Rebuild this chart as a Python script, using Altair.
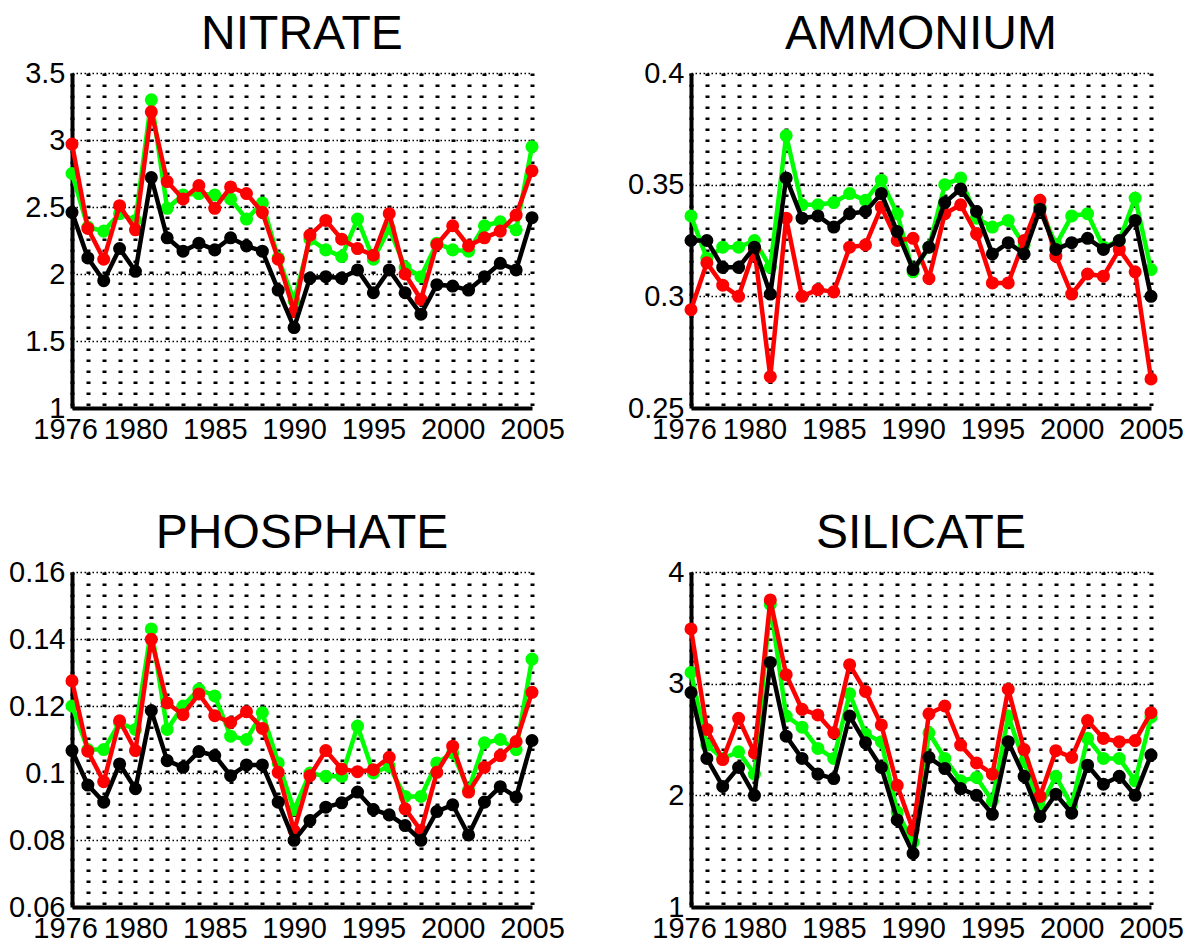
import altair as alt
import pandas as pd

years = list(range(1976, 2006))
label_years = [1976, 1980, 1985, 1990, 1995, 2000, 2005]

nitrate_green = [2.75, 2.35, 2.32, 2.45, 2.40, 3.30, 2.49, 2.59, 2.60, 2.59, 2.56, 2.41, 2.53, 2.12, 1.80,
                 2.26, 2.18, 2.13, 2.41, 2.11, 2.34, 2.05, 1.98, 2.23, 2.18, 2.17, 2.36, 2.39, 2.33, 2.95]
nitrate_red = [2.97, 2.34, 2.11, 2.51, 2.33, 3.21, 2.69, 2.56, 2.66, 2.49, 2.65, 2.60, 2.46, 2.11, 1.72,
               2.29, 2.40, 2.26, 2.19, 2.14, 2.45, 2.00, 1.81, 2.22, 2.36, 2.21, 2.27, 2.32, 2.44, 2.77]
nitrate_black = [2.46, 2.12, 1.95, 2.19, 2.02, 2.72, 2.27, 2.17, 2.23, 2.18, 2.27, 2.21, 2.17, 1.88, 1.60,
                 1.97, 1.98, 1.97, 2.03, 1.86, 2.03, 1.86, 1.70, 1.92, 1.91, 1.88, 1.98, 2.08, 2.03, 2.42]

ammonium_green = [0.336, 0.317, 0.322, 0.322, 0.325, 0.313, 0.372, 0.341, 0.341, 0.342, 0.346, 0.343, 0.352, 0.337, 0.311,
                  0.322, 0.350, 0.353, 0.335, 0.331, 0.334, 0.323, 0.340, 0.323, 0.336, 0.337, 0.322, 0.325, 0.344, 0.312]
ammonium_red = [0.294, 0.315, 0.305, 0.300, 0.321, 0.264, 0.335, 0.300, 0.303, 0.302, 0.322, 0.323, 0.340, 0.325, 0.326,
                0.308, 0.337, 0.341, 0.328, 0.306, 0.306, 0.325, 0.343, 0.318, 0.301, 0.310, 0.309, 0.321, 0.311, 0.263]
ammonium_black = [0.325, 0.325, 0.313, 0.313, 0.322, 0.301, 0.353, 0.335, 0.336, 0.331, 0.337, 0.338, 0.346, 0.329, 0.312,
                  0.322, 0.342, 0.348, 0.338, 0.319, 0.324, 0.319, 0.339, 0.321, 0.324, 0.326, 0.321, 0.325, 0.334, 0.300]

phosphate_green = [0.120, 0.107, 0.107, 0.115, 0.113, 0.143, 0.113, 0.120, 0.125, 0.123, 0.111, 0.110, 0.118, 0.103, 0.089,
                   0.100, 0.099, 0.099, 0.114, 0.100, 0.102, 0.093, 0.093, 0.103, 0.106, 0.095, 0.109, 0.110, 0.107, 0.134]
phosphate_red = [0.1275, 0.1065, 0.0974, 0.1156, 0.1067, 0.1399, 0.1209, 0.1174, 0.1236, 0.1171, 0.1151, 0.1183, 0.1133, 0.1002, 0.0828,
                 0.0992, 0.1067, 0.1012, 0.1004, 0.1010, 0.1047, 0.0893, 0.0828, 0.1002, 0.1080, 0.0943, 0.1017, 0.1052, 0.1094, 0.1241]
phosphate_black = [0.1067, 0.0964, 0.0913, 0.1027, 0.0953, 0.1186, 0.1037, 0.1017, 0.1064, 0.1052, 0.0992, 0.1024, 0.1024, 0.0913, 0.0799,
                   0.0858, 0.0898, 0.0911, 0.0943, 0.0891, 0.0875, 0.0843, 0.0799, 0.0885, 0.0905, 0.0815, 0.0913, 0.0959, 0.0928, 0.1097]

silicate_green = [3.10, 2.45, 2.33, 2.39, 2.19, 3.71, 2.71, 2.61, 2.42, 2.33, 2.91, 2.55, 2.48, 1.85, 1.58,
                  2.56, 2.33, 2.13, 2.16, 1.95, 2.71, 2.30, 1.89, 2.17, 1.91, 2.51, 2.33, 2.33, 2.13, 2.70]
silicate_red = [3.49, 2.59, 2.32, 2.69, 2.38, 3.75, 3.08, 2.77, 2.72, 2.56, 3.17, 2.93, 2.63, 2.09, 1.69,
                2.73, 2.80, 2.45, 2.29, 2.19, 2.95, 2.41, 1.99, 2.40, 2.34, 2.67, 2.51, 2.48, 2.49, 2.74]
silicate_black = [2.92, 2.33, 2.08, 2.25, 2.00, 3.19, 2.53, 2.33, 2.19, 2.15, 2.71, 2.47, 2.25, 1.78, 1.48,
                  2.34, 2.24, 2.06, 2.00, 1.83, 2.48, 2.17, 1.81, 2.01, 1.84, 2.27, 2.10, 2.17, 2.00, 2.36]

titles = ["NITRATE", "AMMONIUM", "PHOSPHATE", "SILICATE"]
y_domains = [[1, 3.5], [0.25, 0.4], [0.06, 0.16], [1, 4]]
y_ticks = [[1, 1.5, 2, 2.5, 3, 3.5], [0.25, 0.3, 0.35, 0.4],
           [0.06, 0.08, 0.1, 0.12, 0.14, 0.16], [1, 2, 3, 4]]
series_data = [
    (nitrate_green, nitrate_red, nitrate_black),
    (ammonium_green, ammonium_red, ammonium_black),
    (phosphate_green, phosphate_red, phosphate_black),
    (silicate_green, silicate_red, silicate_black),
]
series_names = ["green", "red", "black"]
series_colors = ["#00ff00", "#ff0000", "#000000"]

FONT = "Liberation Sans"
LABEL_SIZE = 29
label_expr = ("indexof([" + ",".join(str(v) for v in label_years) +
              "], datum.value) >= 0 ? format(datum.value, 'd') : ''")


def make_panel(title, data, dom, ticks):
    rows = []
    for name, vals in zip(series_names, data):
        for yr, v in zip(years, vals):
            rows.append({"year": yr, "value": v, "series": name})
    df = pd.DataFrame(rows)
    x = alt.X("year:Q", title=None,
              scale=alt.Scale(domain=[1976, 2005], nice=False, zero=False),
              axis=alt.Axis(values=years, labelExpr=label_expr, labelOverlap=False,
                            labelFlush=False, labelBound=False, labelPadding=7,
                            labelFontSize=LABEL_SIZE, labelFont=FONT, labelColor="black",
                            labelOffset={"condition": {"test": "datum.value == 1976", "value": -7}, "value": 0},
                            grid=True, gridDash=[2.5, 8.5], gridWidth=4, gridColor="black",
                            gridOpacity=1))
    y = alt.Y("value:Q", title=None,
              scale=alt.Scale(domain=dom, nice=False, zero=False),
              axis=alt.Axis(values=ticks, format="~g", labelOverlap=False,
                            labelFlush=False, labelBound=False, labelPadding=7,
                            labelFontSize=LABEL_SIZE, labelFont=FONT, labelColor="black",
                            grid=True, gridDash=[1.5, 2.5], gridWidth=1.5, gridColor="black",
                            gridOpacity=1))
    layers = []
    for name, col in zip(series_names, series_colors):
        base = alt.Chart(df).transform_filter(alt.datum.series == name)
        layers.append(base.mark_line(color=col, strokeWidth=4.5, clip=False).encode(x=x, y=y))
        layers.append(base.mark_circle(color=col, size=170, opacity=1, clip=False).encode(x=x, y=y))
    return alt.layer(*layers).properties(
        width=460, height=335,
        title=alt.TitleParams(text=title, fontSize=48, font=FONT, fontWeight="normal",
                              color="black", anchor="middle", offset=0),
    )


panels = [make_panel(t, d, dm, tk) for t, d, dm, tk in zip(titles, series_data, y_domains, y_ticks)]

chart = alt.concat(
    *panels, columns=2, spacing={"row": 164, "column": 159}, bounds="flush"
).configure_view(stroke=None).configure_axis(
    labelFont=FONT, labelFontSize=LABEL_SIZE, labelColor="black",
    domainColor="black", domainWidth=4, ticks=False,
).properties(background="white", padding={"top": 3, "left": 0, "right": 0, "bottom": 0})

chart.save("out.html", embed_options={"renderer": "svg", "actions": False})
